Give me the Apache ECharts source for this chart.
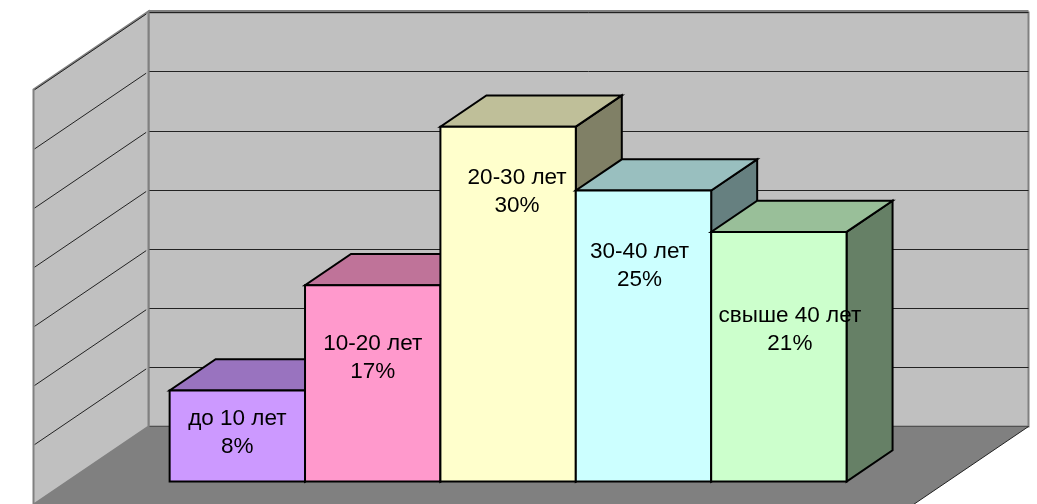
<!DOCTYPE html>
<html>
<head>
<meta charset="utf-8">
<style>html,body{margin:0;padding:0;background:#fff}#c{width:1037px;height:504px}</style>
<script src="https://cdn.jsdelivr.net/npm/echarts@6/dist/echarts.min.js"></script>
</head>
<body>
<div id="c"></div>
<script>
// --- data ---
const categories = ['до 10 лет', '10-20 лет', '20-30 лет', '30-40 лет', 'свыше 40 лет'];
const values = [7.7, 16.6, 30, 24.6, 21.1];
const percentLabels = ['8%', '17%', '30%', '25%', '21%'];
const yTicks = [0, 5, 10, 15, 20, 25, 30, 35];

// --- styling ---
const faceColors = ['#CC99FF', '#FF99CC', '#FFFFCC', '#CCFFFF', '#CCFFCC'];
const topColors  = ['#9973BF', '#BF7399', '#BFBF99', '#99BFBF', '#99BF99'];
const sideColors = ['#664D80', '#804D66', '#808066', '#668080', '#668066'];
// label centre relative to the centre of the bar's front face
const labelNudge = [[0, -3], [0, -26], [9, -112], [-4, -70], [11, -27]];
const X_MIN = -0.755, X_MAX = 5.745, Y_MAX = 35;
const DX = -115, DY = 78;            // oblique projection of full floor depth
const Z_FRONT = 0.705, Z_BACK = 0.305; // bar position in the depth

function proj(api, x, y, z) {
  const c = api.coord([x, y]);
  return [c[0] + z * DX, c[1] + z * DY];
}
function poly(points, fill, stroke, lw, z2) {
  return {
    type: 'polygon', z2: z2 || 0, shape: { points: points },
    style: { fill: fill, stroke: stroke, lineWidth: lw, lineJoin: 'miter' }
  };
}
function line(a, b, stroke, lw, z2) {
  return {
    type: 'line', z2: z2 || 0,
    shape: { x1: a[0], y1: a[1], x2: b[0], y2: b[1] },
    style: { stroke: stroke, lineWidth: lw }
  };
}

function renderWalls(params, api) {
  const children = [];
  // floor
  children.push(poly([
    proj(api, X_MIN, 0, 0), proj(api, X_MAX, 0, 0),
    proj(api, X_MAX, 0, 1), proj(api, X_MIN, 0, 1)
  ], '#808080', null, 0));
  children.push(line(proj(api, X_MAX, 0, 0), proj(api, X_MAX, 0, 1), '#222', 1));
  // left wall
  const tl = proj(api, X_MIN, Y_MAX, 0), tf = proj(api, X_MIN, Y_MAX, 1);
  children.push(poly([
    proj(api, X_MIN, 0, 0), [tl[0], tl[1] - 1],
    [tf[0], tf[1] - 1], proj(api, X_MIN, 0, 1)
  ], '#C0C0C0', '#808080', 2));
  // left wall gridlines
  yTicks.slice(1).forEach(function (t) {
    children.push(line(proj(api, X_MIN, t, 0.02), proj(api, X_MIN, t, 0.99), '#222', 1));
  });
  // grey top edge of the back wall, just above the top gridline
  const tr = proj(api, X_MAX, Y_MAX, 0);
  children.push(line([tl[0], tl[1] - 1.5], [tr[0], tr[1] - 1.5], '#808080', 2));
  return { type: 'group', children: children };
}

function renderBar(params, api) {
  const i = api.value(0), v = api.value(1), l = i, r = i + 1;
  const fbl = proj(api, l, 0, Z_FRONT), fbr = proj(api, r, 0, Z_FRONT);
  const ftl = proj(api, l, v, Z_FRONT), ftr = proj(api, r, v, Z_FRONT);
  const btl = proj(api, l, v, Z_BACK), btr = proj(api, r, v, Z_BACK);
  const bbr = proj(api, r, 0, Z_BACK);
  const n = labelNudge[i];
  return {
    type: 'group',
    children: [
      poly([ftr, btr, bbr, fbr], sideColors[i], '#000', 2),
      poly([ftl, ftr, btr, btl], topColors[i], '#000', 2),
      poly([fbl, ftl, ftr, fbr], faceColors[i], '#000', 2),
      {
        type: 'text', z2: 10,
        style: {
          x: (fbl[0] + fbr[0]) / 2 + n[0],
          y: (fbl[1] + ftl[1]) / 2 + n[1],
          text: categories[i] + '\n' + percentLabels[i],
          align: 'center', verticalAlign: 'middle',
          fill: '#000', fontSize: 22.5, lineHeight: 28,
          fontFamily: '"Liberation Sans", Arial, sans-serif'
        }
      }
    ]
  };
}

const chart = echarts.init(document.getElementById('c'), null, { renderer: 'canvas' });
chart.setOption({
  animation: false,
  backgroundColor: '#fff',
  grid: {
    show: true, left: 148.5, right: 8.5, top: 12.5, bottom: 77.5,
    backgroundColor: '#C0C0C0', borderColor: '#808080', borderWidth: 2
  },
  xAxis: { type: 'value', min: X_MIN, max: X_MAX, show: false },
  yAxis: {
    type: 'value', min: yTicks[0], max: Y_MAX, interval: 5,
    axisLine: { show: false }, axisTick: { show: false }, axisLabel: { show: false },
    splitLine: { show: true, lineStyle: { color: '#222', width: 1 } }
  },
  series: [
    { type: 'custom', silent: true, clip: false, z: 1, data: [[0, 0]], renderItem: renderWalls },
    {
      type: 'custom', silent: true, clip: false, z: 2,
      data: values.map(function (v, i) { return [i, v]; }),
      encode: { x: 0, y: 1 }, renderItem: renderBar
    }
  ]
});
</script>
</body>
</html>
